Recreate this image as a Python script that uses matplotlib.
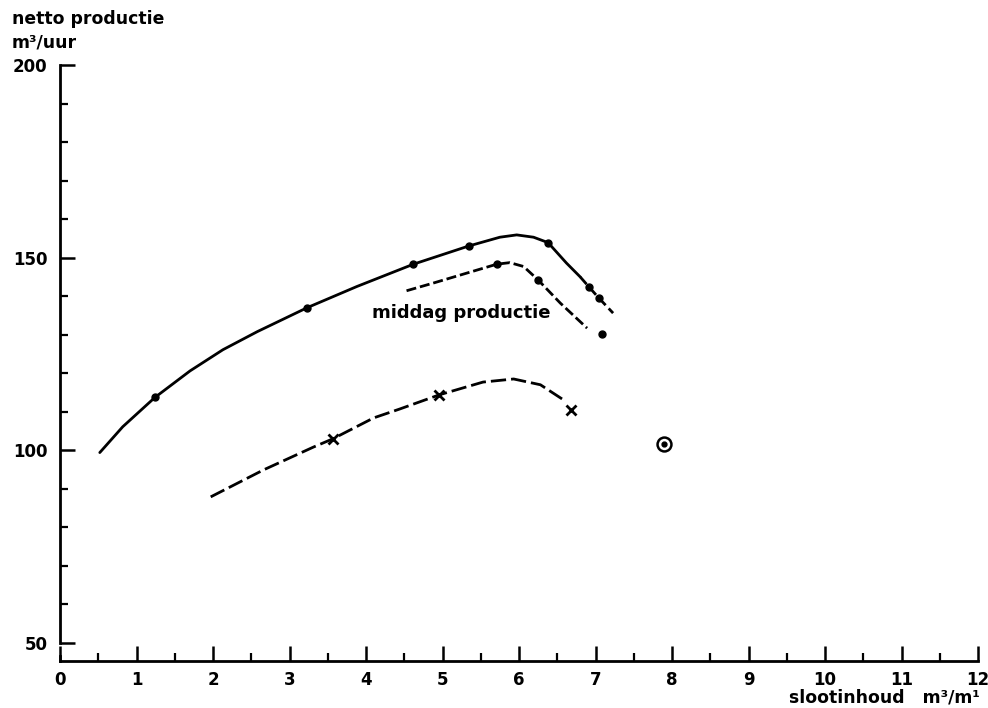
import matplotlib
matplotlib.use("Agg")
import matplotlib.pyplot as plt
from matplotlib.ticker import MultipleLocator

# ---- data ----
# upper curve (solid, total production)
upper_x = [0.52, 0.82, 1.24, 1.70, 2.13, 2.58, 3.23, 3.88, 4.62, 5.34, 5.75, 5.97, 6.19, 6.38, 6.62, 6.80]
upper_y = [99.4, 106.1, 113.7, 120.6, 126.1, 130.8, 137.0, 142.5, 148.3, 153.0, 155.3, 155.9, 155.3, 153.9, 148.6, 145.0]
upper_tail_x = [6.80, 6.91, 7.04, 7.23]
upper_tail_y = [145.0, 142.5, 139.6, 135.6]
upper_pts_x = [1.24, 3.23, 4.62, 5.34, 6.38, 6.91, 7.04]
upper_pts_y = [113.7, 137.0, 148.3, 153.0, 153.9, 142.5, 139.6]

# middag productie (dashed)
mid_x = [4.53, 4.88, 5.32, 5.71, 5.88, 6.06, 6.25, 6.54, 6.89]
mid_y = [141.4, 143.4, 146.0, 148.3, 148.7, 147.7, 144.2, 138.2, 131.7]
mid_pts_x = [5.71, 6.25, 7.08]
mid_pts_y = [148.3, 144.2, 130.2]

# lower curve (dashed, crosses)
low_x = [1.97, 2.66, 3.31, 3.57, 4.10, 4.44, 4.96, 5.53, 5.93, 6.28, 6.58]
low_y = [87.9, 94.9, 100.8, 103.0, 108.4, 110.7, 114.4, 117.7, 118.5, 117.0, 113.1]
low_pts_x = [3.57, 4.96, 6.68]
low_pts_y = [103.0, 114.4, 110.5]

# isolated circled point
circ_x = [7.89]
circ_y = [101.7]

x_ticks = list(range(0, 13))
y_ticks = [50, 100, 150, 200]

# ---- figure ----
fig = plt.figure(figsize=(9.88, 7.08), dpi=100)
ax = fig.add_axes([60/988, 1-661/708, (978-60)/988, (661-65)/708])
ax.set_xlim(0, 12)
ax.set_ylim(45.3, 200)

lw = 2.0
k = "black"
ax.plot(upper_x, upper_y, color=k, lw=lw, solid_capstyle="round")
ax.plot(upper_tail_x, upper_tail_y, color=k, lw=lw, dashes=(3.5, 1.6))
ax.plot(upper_pts_x, upper_pts_y, "o", color=k, ms=5)

ax.plot(mid_x, mid_y, color=k, lw=lw, dashes=(3.6, 1.4))
ax.plot(mid_pts_x, mid_pts_y, "o", color=k, ms=5)

ax.plot(low_x, low_y, color=k, lw=lw, dashes=(5.5, 1.8))
ax.plot(low_pts_x, low_pts_y, "x", color=k, ms=7, mew=2)

ax.plot(circ_x, circ_y, "o", mfc="white", mec=k, ms=10, mew=1.8)
ax.plot(circ_x, circ_y, "o", color=k, ms=3.5)

ax.text(5.25, 135.6, "middag productie", ha="center", va="center",
        fontsize=13, fontweight="bold")

# axes styling
for s in ["top", "right"]:
    ax.spines[s].set_visible(False)
ax.spines["left"].set_linewidth(2)
ax.spines["bottom"].set_linewidth(2)
ax.spines["left"].set_bounds(50, 200)
ax.axvline(0, 0, (46.6-45.3)/(200-45.3), color=k, lw=2, clip_on=False)

ax.set_xticks(x_ticks)
ax.set_yticks(y_ticks)
ax.xaxis.set_minor_locator(MultipleLocator(0.5))
ax.yaxis.set_minor_locator(MultipleLocator(10))
ax.tick_params(axis="both", which="major", direction="in", length=11, width=1.8,
               labelsize=12)
ax.tick_params(axis="both", which="minor", direction="in", length=5.5, width=1.6)
ax.tick_params(axis="x", which="major", pad=7)
ax.tick_params(axis="y", which="major", pad=9)
for lab in ax.get_xticklabels() + ax.get_yticklabels():
    lab.set_fontweight("bold")

fig.text(12/988, 1-10/708, "netto productie\nm³/uur", ha="left", va="top",
         fontsize=12.4, fontweight="bold", linespacing=1.4)
fig.text(980/988, 1-697/708, "slootinhoud   m³/m¹", ha="right", va="center",
         fontsize=12.4, fontweight="bold")

fig.savefig("out.png", dpi=100, facecolor="white")
